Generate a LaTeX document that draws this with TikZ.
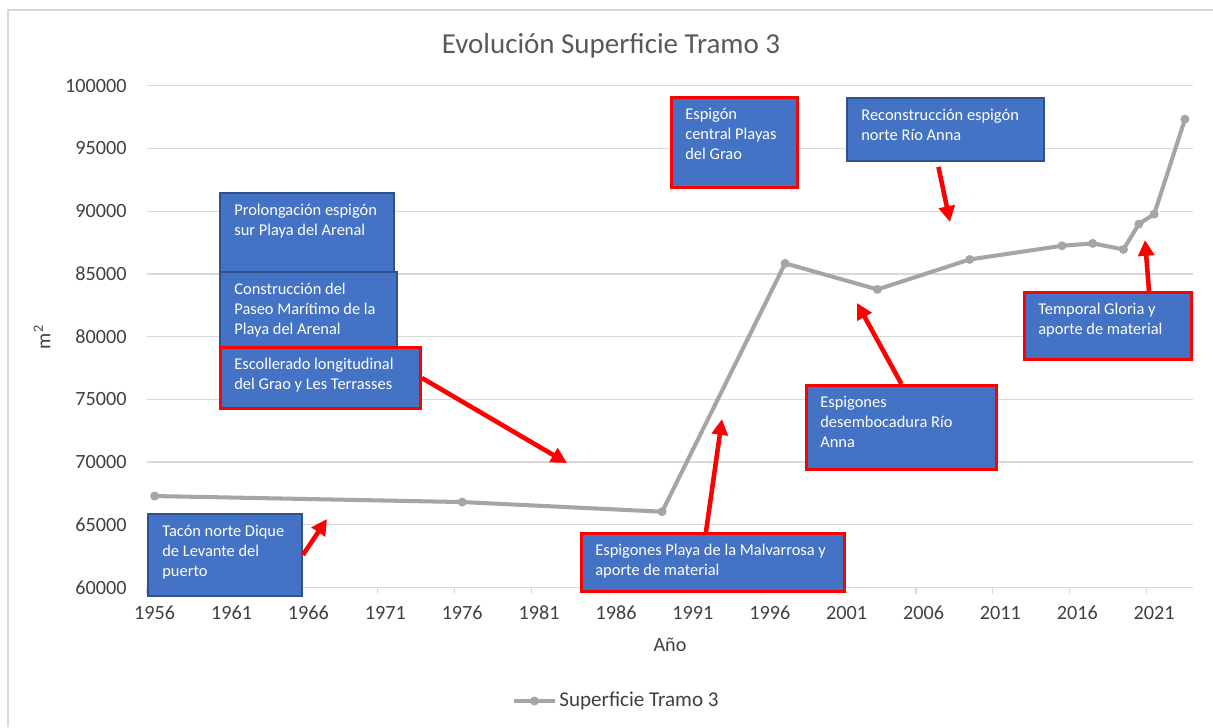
\documentclass[tikz,border=0pt]{standalone}
\usepackage{fontspec}
\setmainfont{Carlito}
\usetikzlibrary{arrows.meta,calc,positioning}
\definecolor{boxblue}{HTML}{4472C4}
\definecolor{boxnavy}{HTML}{2F528F}
\definecolor{seriegray}{HTML}{A5A5A5}
\definecolor{gridgray}{HTML}{D9D9D9}
\definecolor{titlegray}{HTML}{595959}
\definecolor{labgray}{HTML}{404040}

\begin{document}
\begin{tikzpicture}[x=0.02cm, y=-0.02cm,
        grid/.style={gridgray, line width=0.75pt},
        frame/.style={gridgray, line width=1.1pt},
        serie/.style={seriegray, line width=2.3pt, line join=round},
        dot/.style={circle, fill=seriegray, inner sep=0pt, minimum size=0.18cm},
        ticklab/.style={labgray, font=\fontsize{11.5}{14}\selectfont, inner sep=0pt},
        evbox/.style={draw=boxnavy, fill=boxblue, line width=1.1pt, anchor=north west, inner sep=0pt},
        redbox/.style={evbox, draw=red, line width=1.7pt},
        boxtext/.style={white, anchor=north west, align=left, inner sep=0pt, font=\fontsize{9.35}{11.3}\selectfont},
        pointer/.style={red, line width=2.6pt, -{Triangle[length=9pt,width=9pt]}}
    ]

    \useasboundingbox (0,0) rectangle (1213,727);
    \fill[white] (0,0) rectangle (1213,727);
    \draw[frame] (8,727) -- (8,10) -- (1213,10);

    % --- Title ---
    \node[titlegray, font=\fontsize{16.5}{20}\selectfont, anchor=base] (title) at (611,53) {Evolución Superficie Tramo 3};

    % --- Plot area: years on x, thousands of m2 above 60000 on y ---
    \begin{scope}[shift={(147,587.3)}, x=0.3076cm, y=0.2508cm]
        \foreach \v in {0,5,...,40} {
            \draw[grid] (0,\v) -- (68,\v);
            \node[ticklab, anchor=east] (ylab\v) at (-1.3,\v) {\number\numexpr60000+1000*\v\relax};
        }
        \foreach \k in {0,...,13} {
            \draw[grid] (5*\k,0) -- (5*\k,-0.56);
            \node[ticklab] (xlab\k) at (5*\k+0.5,-2.05) {\number\numexpr1956+5*\k\relax};
        }
        % --- Series ---
        \foreach \yr/\val [count=\i] in {1956/7.28, 1976/6.80, 1989/6.03, 1997/25.84, 2003/23.76, 2009/26.15,
                2015/27.24, 2017/27.43, 2019/26.95, 2020/28.97, 2021/29.77, 2023/37.34}
            \coordinate (p\i) at ({\yr-1955.5},\val);
        \draw[serie] (p1) \foreach \i in {2,...,12} {-- (p\i)};
        \foreach \i in {1,...,12} \node[dot] (d\i) at (p\i) {};
    \end{scope}

    % --- Axis titles and legend ---
    \node[ticklab] (xtitle) at (670,645) {Año};
    \node[ticklab, rotate=90] (ytitle) at (42,337) {m\textsuperscript{2}};
    \coordinate (legA) at (514,701);
    \coordinate (legB) at (555,701);
    \draw[serie] (legA) -- (legB);
    \node[dot] (legdot) at ($(legA)!0.5!(legB)$) {};
    \node[ticklab, anchor=west, font=\fontsize{12}{14}\selectfont] (legtext) at (559,701) {Superficie Tramo 3};

    % --- Event boxes ---
    \node[evbox, minimum width=3.48cm, minimum height=1.58cm] (prolong) at (219,192) {};
    \node[boxtext] (prolong-t) at ([shift={(15,12)}]prolong.north west) {Prolongación espigón\\sur Playa del Arenal};
    \node[evbox, minimum width=3.54cm, minimum height=1.5cm] (paseo) at (219,271) {};
    \node[boxtext] (paseo-t) at ([shift={(15,12)}]paseo.north west) {Construcción del\\Paseo Marítimo de la\\Playa del Arenal};
    \node[redbox, minimum width=4cm, minimum height=1.22cm] (escoll) at (219,346) {};
    \node[boxtext] (escoll-t) at ([shift={(15,12)}]escoll.north west) {Escollerado longitudinal\\del Grao y Les Terrasses};
    \node[evbox, minimum width=3.08cm, minimum height=1.64cm] (tacon) at (147,513) {};
    \node[boxtext] (tacon-t) at ([shift={(15,12)}]tacon.north west) {Tacón norte Dique\\de Levante del\\puerto};
    \node[redbox, minimum width=5.26cm, minimum height=1.16cm] (malv) at (580,532) {};
    \node[boxtext] (malv-t) at ([shift={(15,12)}]malv.north west) {Espigones Playa de la Malvarrosa y\\aporte de material};
    \node[redbox, minimum width=2.52cm, minimum height=1.8cm] (espcent) at (670,96) {};
    \node[boxtext] (espcent-t) at ([shift={(15,12)}]espcent.north west) {Espigón\\central Playas\\del Grao};
    \node[evbox, minimum width=3.94cm, minimum height=1.26cm] (recon) at (846,97) {};
    \node[boxtext] (recon-t) at ([shift={(15,12)}]recon.north west) {Reconstrucción espigón\\norte Río Anna};
    \node[redbox, minimum width=3.8cm, minimum height=1.68cm] (desemb) at (805,384) {};
    \node[boxtext] (desemb-t) at ([shift={(15,12)}]desemb.north west) {Espigones\\desembocadura Río\\Anna};
    \node[redbox, minimum width=3.34cm, minimum height=1.34cm] (gloria) at (1023,291) {};
    \node[boxtext] (gloria-t) at ([shift={(15,12)}]gloria.north west) {Temporal Gloria y\\aporte de material};

    % --- Arrows ---
    \coordinate (tacon-tip) at (327,519);
    \coordinate (escoll-tip) at (567,463);
    \coordinate (malv-tip) at (722,419);
    \coordinate (desemb-tip) at (857,303);
    \coordinate (recon-tip) at (950,222);
    \coordinate (gloria-tip) at (1145,240);
    \draw[pointer] (tacon.east) -- (tacon-tip);
    \draw[pointer] (escoll.east) -- (escoll-tip);
    \draw[pointer] ([shift={(-7,0)}]malv.north) -- (malv-tip);
    \draw[pointer] (desemb.north) -- (desemb-tip);
    \draw[pointer] ([shift={(-7,5)}]recon.south) -- (recon-tip);
    \draw[pointer] ([shift={(41,0)}]gloria.north) -- (gloria-tip);

\end{tikzpicture}
\end{document}
